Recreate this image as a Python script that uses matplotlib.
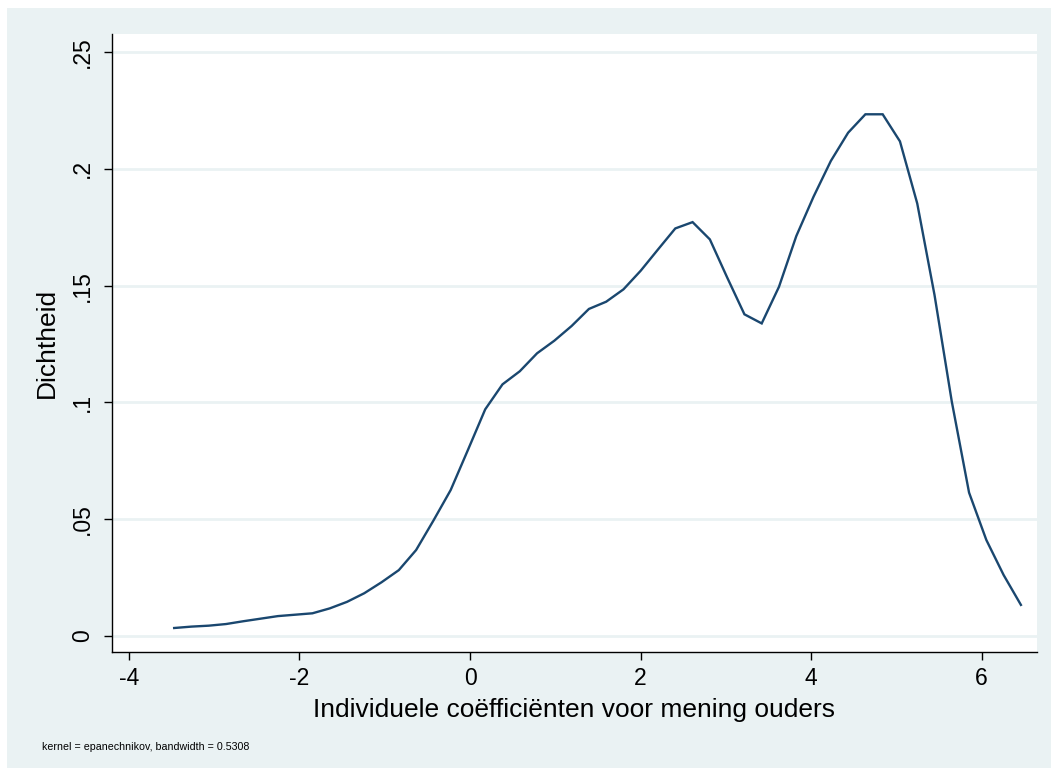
import matplotlib
matplotlib.use("Agg")
import matplotlib.pyplot as plt
from matplotlib.patches import Rectangle

# Density estimate evaluated at 50 equally spaced points
x_start = -3.47
x_step = 0.2027
density = [
    0.0033, 0.0039, 0.0043, 0.0050, 0.0062, 0.0073, 0.0084, 0.0090, 0.0096, 0.0117,
    0.0145, 0.0182, 0.0229, 0.0281, 0.0367, 0.0493, 0.0624, 0.0796, 0.0970, 0.1077,
    0.1133, 0.1210, 0.1264, 0.1327, 0.1400, 0.1431, 0.1484, 0.1564, 0.1655, 0.1745,
    0.1772, 0.1698, 0.1535, 0.1377, 0.1338, 0.1495, 0.1712, 0.1881, 0.2034, 0.2155,
    0.2234, 0.2234, 0.2118, 0.1852, 0.1460, 0.1003, 0.0613, 0.0410, 0.0260, 0.0132,
]
x_vals = [x_start + i * x_step for i in range(len(density))]

x_ticks = [-4, -2, 0, 2, 4, 6]
x_ticklabels = ["-4", "-2", "0", "2", "4", "6"]
y_ticks = [0, 0.05, 0.10, 0.15, 0.20, 0.25]
y_ticklabels = ["0", ".05", ".1", ".15", ".2", ".25"]

x_title = "Individuele coëfficiënten voor mening ouders"
y_title = "Dichtheid"
note = "kernel = epanechnikov, bandwidth = 0.5308"

plt.rcParams['font.family'] = ['Liberation Sans', 'DejaVu Sans']

W, H = 1051, 769
fig = plt.figure(figsize=(W / 100, H / 100), dpi=100)
fig.patch.set_facecolor("white")
bg = "#EAF2F3"
fig.patches.append(Rectangle((7 / W, 1 - 768 / H), 1 - 7 / W, (768 - 8) / H,
                             transform=fig.transFigure, facecolor=bg,
                             edgecolor="none", zorder=-10))

ax = fig.add_axes([112 / W, 1 - 652 / H, (1037 - 112) / W, (652 - 34) / H])
ax.set_facecolor("white")
ax.plot(x_vals, density, color="#1a476f", lw=1.7, solid_joinstyle="miter")

ax.set_xlim(-4.1994, 6.651)
ax.set_ylim(-0.00698, 0.2578)
ax.set_xticks(x_ticks)
ax.set_xticklabels(x_ticklabels)
ax.set_yticks(y_ticks)
ax.set_yticklabels(y_ticklabels, rotation=90, va="center")
ax.grid(axis="y", color=bg, lw=2)
ax.set_axisbelow(True)
for s in ["top", "right"]:
    ax.spines[s].set_visible(False)
for s in ["left", "bottom"]:
    ax.spines[s].set_linewidth(1.0)
ax.tick_params(axis="both", direction="out", length=6, width=1.0,
               labelsize=16.5, colors="black")
ax.tick_params(axis="x", pad=5)
ax.tick_params(axis="y", pad=7)

fig.text(574 / W, 1 - 710 / H, x_title, fontsize=19, ha="center", va="center")
fig.text(47 / W, 1 - 343 / H, y_title, fontsize=19, ha="center", va="center",
         rotation=90)

fig.text(42 / W, 1 - 747 / H, note, fontsize=7.7, va="center", ha="left")

fig.savefig("out.png", dpi=100, facecolor=fig.get_facecolor())
